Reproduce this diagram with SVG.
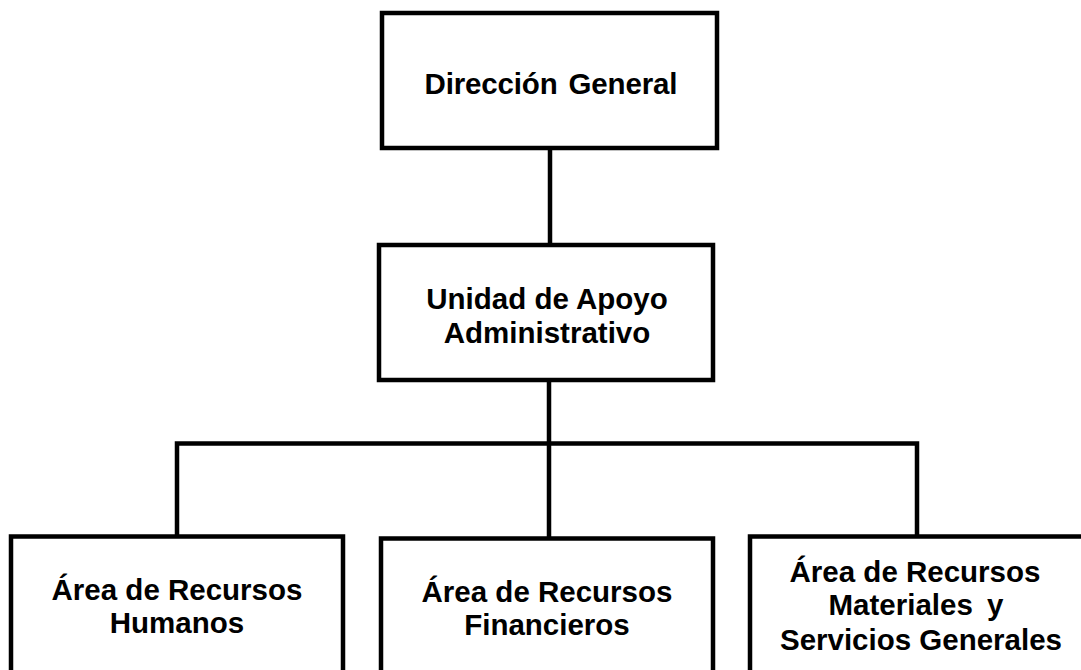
<svg xmlns="http://www.w3.org/2000/svg" width="1081" height="670" viewBox="0 0 1081 670">
<style>
.box{fill:#fff;stroke:#000;stroke-width:4.5}
.ln{fill:none;stroke:#000;stroke-width:4.5}
.t{font-family:"Liberation Sans",Arial,sans-serif;font-weight:bold;font-size:29.5px;fill:#000;text-anchor:middle}
</style>
<rect width="1081" height="670" fill="#fff"/>
<g id="connectors">
<line class="ln" x1="550" y1="148" x2="550" y2="245"/>
<line class="ln" x1="549" y1="380" x2="549" y2="539"/>
<polyline class="ln" points="177,537 177,443.5 917,443.5 917,537"/>
</g>
<g id="n1">
<rect class="box" x="382" y="13" width="335" height="135"/>
<text class="t" x="551" y="94" word-spacing="3" textLength="253" lengthAdjust="spacing">Dirección General</text>
</g>
<g id="n2">
<rect class="box" x="379" y="245" width="334" height="135"/>
<text class="t" x="547" y="309">Unidad de Apoyo</text>
<text class="t" x="547" y="343">Administrativo</text>
</g>
<g id="n3">
<rect class="box" x="11" y="536.5" width="332" height="160"/>
<text class="t" x="177" y="600">Área de Recursos</text>
<text class="t" x="177" y="633">Humanos</text>
</g>
<g id="n4">
<rect class="box" x="381" y="538.5" width="332" height="160"/>
<text class="t" x="547" y="602">Área de Recursos</text>
<text class="t" x="547" y="635">Financieros</text>
</g>
<g id="n5">
<rect class="box" x="750" y="536.5" width="360" height="160"/>
<text class="t" x="915" y="582">Área de Recursos</text>
<text class="t" x="916" y="615" word-spacing="6">Materiales y</text>
<text class="t" x="921" y="650">Servicios Generales</text>
</g>
</svg>
